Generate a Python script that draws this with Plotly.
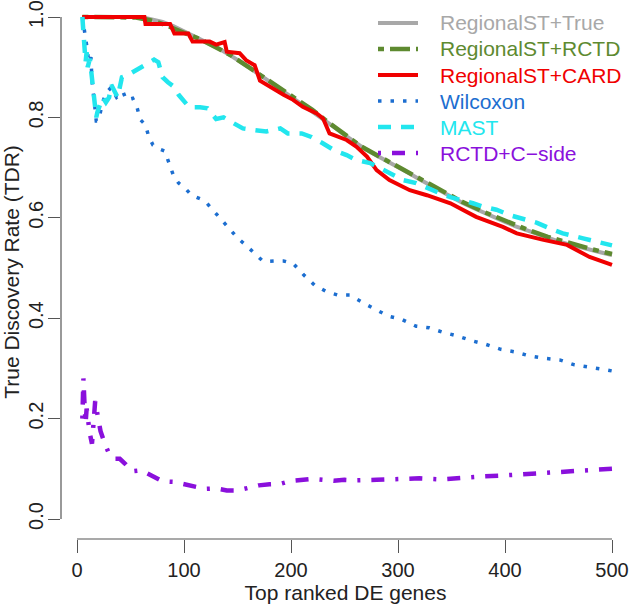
import plotly.graph_objects as go

# ---------------- data ----------------
true_x = [5, 20, 40, 60, 70, 80, 90, 100, 110, 120, 130, 140, 150, 160, 170, 180, 190, 200,
          210, 220, 230, 240, 250, 260, 270, 280, 290, 300, 310, 320, 330, 340, 350, 360,
          370, 380, 390, 400, 410, 420, 430, 440, 450, 460, 470, 480, 490, 500]
true_y = [1.0, 1.0, 1.0, 1.0, 0.995, 0.99, 0.982, 0.972, 0.962, 0.952, 0.94, 0.928, 0.915,
          0.901, 0.886, 0.871, 0.857, 0.843, 0.828, 0.813, 0.797, 0.781, 0.765, 0.75, 0.736,
          0.724, 0.713, 0.701, 0.689, 0.677, 0.665, 0.652, 0.64, 0.63, 0.62, 0.61, 0.601,
          0.592, 0.583, 0.575, 0.567, 0.56, 0.553, 0.547, 0.541, 0.536, 0.531, 0.526]

rctd_x = [5, 20, 40, 55, 65, 75, 85, 95, 105, 115, 125, 135, 145, 155, 165, 175, 185, 195,
          205, 220, 235, 250, 265, 280, 300, 320, 340, 360, 380, 400, 420, 440, 460, 480, 500]
rctd_y = [1.0, 1.0, 1.0, 0.999, 0.995, 0.99, 0.982, 0.972, 0.964, 0.956, 0.946, 0.934, 0.922,
          0.908, 0.894, 0.879, 0.864, 0.85, 0.836, 0.815, 0.79, 0.766, 0.743, 0.725, 0.702,
          0.678, 0.654, 0.632, 0.612, 0.594, 0.577, 0.562, 0.549, 0.538, 0.528]

card_x = [5, 20, 40, 63, 64, 87, 91, 104, 108, 124, 130, 138, 140, 152, 158, 162, 166, 171,
          180, 193, 202, 211, 224, 230, 236, 252, 261, 271, 280, 292, 311, 327, 349, 373,
          398, 411, 436, 458, 479, 500]
card_y = [1.0, 1.0, 1.0, 1.0, 0.986, 0.986, 0.967, 0.967, 0.951, 0.951, 0.945, 0.95, 0.931,
          0.928, 0.914, 0.908, 0.904, 0.873, 0.861, 0.845, 0.835, 0.821, 0.808, 0.798, 0.768,
          0.755, 0.742, 0.722, 0.695, 0.675, 0.655, 0.645, 0.629, 0.602, 0.582, 0.569, 0.556,
          0.546, 0.522, 0.506]

wil_x = [5, 7, 9, 11, 13, 14, 16, 18, 20, 24, 27, 32, 37, 43, 46, 52, 56, 59, 64, 67, 71, 77,
         82, 86, 90, 95, 101, 107, 115, 121, 127, 133, 142, 150, 158, 165, 174, 184, 193, 202,
         212, 222, 233, 244, 255, 268, 279, 291, 303, 317, 329, 342, 355, 369, 382, 396, 409,
         423, 437, 451, 465, 479, 495, 500]
wil_y = [1.0, 0.975, 0.944, 0.91, 0.92, 0.875, 0.825, 0.793, 0.793, 0.83, 0.848, 0.86, 0.84,
         0.851, 0.835, 0.838, 0.821, 0.796, 0.785, 0.762, 0.745, 0.737, 0.733, 0.71, 0.685,
         0.669, 0.659, 0.645, 0.638, 0.63, 0.615, 0.6, 0.578, 0.56, 0.545, 0.532, 0.513, 0.514,
         0.514, 0.509, 0.486, 0.466, 0.453, 0.446, 0.446, 0.43, 0.418, 0.404, 0.398, 0.384,
         0.381, 0.372, 0.365, 0.355, 0.348, 0.338, 0.333, 0.325, 0.32, 0.317, 0.307, 0.303,
         0.297, 0.295]

mast_x = [5, 6, 7, 8, 9, 10, 12, 13, 15, 16, 17, 18, 19, 21, 24, 27, 30, 32, 35, 38, 40, 42,
          48, 55, 62, 67, 72, 76, 80, 85, 90, 95, 100, 105, 115, 122, 130, 137, 145, 155, 165,
          177, 190, 197, 210, 219, 230, 240, 252, 261, 274, 283, 295, 305, 317, 327, 339, 349,
          361, 370, 380, 392, 405, 420, 430, 445, 454, 473, 486, 500]
mast_y = [1.0, 0.97, 0.94, 0.91, 0.93, 0.9, 0.917, 0.895, 0.87, 0.84, 0.82, 0.8, 0.81, 0.82,
          0.84, 0.83, 0.84, 0.865, 0.85, 0.84, 0.86, 0.88, 0.885, 0.894, 0.903, 0.908, 0.915,
          0.91, 0.88, 0.87, 0.862, 0.845, 0.833, 0.82, 0.82, 0.818, 0.797, 0.8, 0.79, 0.778,
          0.775, 0.772, 0.778, 0.768, 0.768, 0.761, 0.748, 0.735, 0.725, 0.715, 0.709, 0.699,
          0.685, 0.675, 0.669, 0.659, 0.649, 0.641, 0.635, 0.629, 0.622, 0.616, 0.605, 0.596,
          0.59, 0.576, 0.569, 0.559, 0.552, 0.545]

cside_x = [5, 6, 7, 8, 9, 10, 12, 14, 16, 17, 19, 22, 26, 30, 35, 40, 45, 52, 60, 70, 80, 90,
           100, 110, 120, 130, 140, 150, 160, 170, 180, 190, 200, 210, 220, 230, 240, 250, 260,
           280, 300, 320, 340, 360, 380, 400, 420, 440, 460, 480, 500]
cside_y = [0.2, 0.28, 0.23, 0.19, 0.22, 0.2, 0.17, 0.15, 0.2, 0.235, 0.21, 0.175, 0.15, 0.13,
           0.12, 0.12, 0.11, 0.095, 0.097, 0.086, 0.075, 0.074, 0.07, 0.064, 0.06, 0.061, 0.057,
           0.057, 0.063, 0.067, 0.069, 0.07, 0.076, 0.078, 0.08, 0.078, 0.076, 0.078, 0.077,
           0.078, 0.08, 0.081, 0.079, 0.083, 0.085, 0.087, 0.09, 0.092, 0.096, 0.097, 0.1]

x_ticks = [0, 100, 200, 300, 400, 500]
y_ticks = [0.0, 0.2, 0.4, 0.6, 0.8, 1.0]

series_names = ["RegionalST+True", "RegionalST+RCTD", "RegionalST+CARD", "Wilcoxon", "MAST",
                "RCTD+C\u2212side"]
series_x = [true_x, rctd_x, card_x, wil_x, mast_x, cside_x]
series_y = [true_y, rctd_y, card_y, wil_y, mast_y, cside_y]

# styles
colors = ["#A8A8A8", "#5E8A30", "#F00000", "#1C6ED0", "#22E6EE", "#8A10DC"]
widths = [4, 4.5, 4, 3.5, 4.5, 4.5]
dashes = ["solid", "6px,6px,20px,6px", "solid", "3.5px,9px", "13px,10px", "3px,11px,13px,11px"]

FONT = "Liberation Sans, Arial, sans-serif"
AXC = "#555555"

W, H = 633, 605
L, R, T, B = 61, 3, 5, 66
PW, PH = W - L - R, H - T - B
# data->pixel: x 0->77, 500->612 ; y 1.0->17, 0.0->519
xpx_per = (612 - 77) / 500.0
ypx_per = (519 - 17) / 1.0
x_lo = (L - 77) / xpx_per
x_hi = (W - R - 77) / xpx_per
y_lo = -((H - B) - 519) / ypx_per
y_hi = 1.0 + (17 - T) / ypx_per

fig = go.Figure()
for name, xs, ys, col, w, dash in zip(series_names, series_x, series_y, colors, widths, dashes):
    fig.add_trace(go.Scatter(x=xs, y=ys, mode="lines", name=name, showlegend=False,
                             line=dict(color=col, width=w, dash=dash)))

# manual legend (R-style, no box)
def px_x(p):
    return (p - L) / PW

def px_y(p):
    return (H - B - p) / PH

shapes = [
    dict(type="line", xref="paper", yref="y", x0=0, x1=0, y0=y_ticks[0], y1=y_ticks[-1],
         line=dict(color=AXC, width=1.2)),
    dict(type="line", xref="x", yref="paper", x0=x_ticks[0], x1=x_ticks[-1], y0=0, y1=0,
         line=dict(color=AXC, width=1.2)),
]
annotations = []
row0, rowgap = 23, 26
for i, (name, col, w, dash) in enumerate(zip(series_names, colors, widths, dashes)):
    yy = px_y(row0 + i * rowgap)
    shapes.append(dict(type="line", xref="paper", yref="paper", x0=px_x(378), x1=px_x(418),
                       y0=yy, y1=yy, line=dict(color=col, width=w, dash=dash)))
    annotations.append(dict(xref="paper", yref="paper", x=px_x(438), y=yy, text=name,
                            showarrow=False, xanchor="left", yanchor="middle",
                            font=dict(size=21, family=FONT, color=col)))

fig.update_layout(
    width=W, height=H,
    margin=dict(l=L, r=R, t=T, b=B, autoexpand=False),
    paper_bgcolor="white", plot_bgcolor="white",
    font=dict(family=FONT, size=20, color="#222222"),
    showlegend=False,
    xaxis=dict(range=[x_lo, x_hi], tickvals=x_ticks, ticktext=[str(v) for v in x_ticks],
               showgrid=False, zeroline=False, showline=False,
               ticks="outside", ticklen=13, tickwidth=1.2, tickcolor=AXC,
               tickfont=dict(size=20, family=FONT, color="#222"),
               title=dict(text="Top ranked DE genes", font=dict(size=21, family=FONT, color="#222"),
                          standoff=2)),
    yaxis=dict(range=[y_lo, y_hi], tickvals=y_ticks, ticktext=[f"{v:.1f}" for v in y_ticks],
               showgrid=False, zeroline=False, showline=False,
               ticks="outside", ticklen=12, tickwidth=1.2, tickcolor=AXC, tickangle=-90,
               ticklabelstandoff=-3,
               tickfont=dict(size=20, family=FONT, color="#222"),
               title=dict(text="True Discovery Rate (TDR)", font=dict(size=21, family=FONT, color="#222"),
                          standoff=6)),
    shapes=shapes,
    annotations=annotations,
)

fig.write_html("out.html")
